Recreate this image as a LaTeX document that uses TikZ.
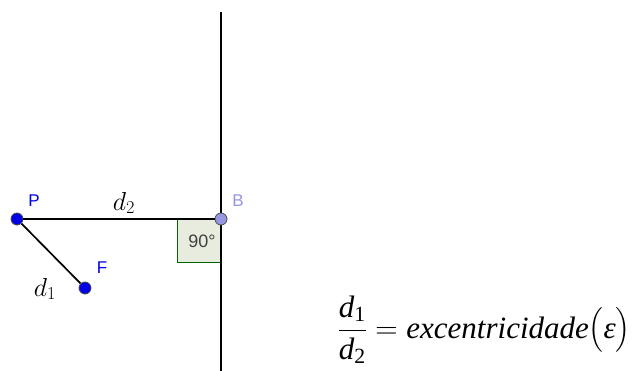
\documentclass[tikz,border=0pt]{standalone}
\usepackage{fix-cm}
\usepackage{amsmath}
\usepackage{fontspec}
\setmainfont{Liberation Serif}
\newfontfamily\labelfont{Liberation Sans}
\usetikzlibrary{positioning, calc}
\definecolor{ptblue}{RGB}{0,0,230}
\definecolor{ptlilac}{RGB}{150,150,225}
\definecolor{anglegreen}{RGB}{0,100,0}
\definecolor{anglefill}{RGB}{232,236,222}
\tikzset{
  ptdot/.style={circle, draw=black!70, line width=0.8pt, inner sep=0pt, minimum size=12pt},
  ptname/.style={font=\labelfont\fontsize{17}{17}\selectfont, inner sep=0pt},
  dlabel/.style={font=\fontsize{26}{26}\selectfont, inner sep=0pt},
  seg/.style={line width=1.7pt, black}
}
\begin{document}
\begin{tikzpicture}[x=1pt, y=-1pt]
  \useasboundingbox (0,0) rectangle (636,371);
  % right angle mark
  \node[draw=anglegreen, fill=anglefill, line width=0.8pt, minimum width=43pt, minimum height=43pt,
        inner sep=0pt, anchor=north east] (ang) at (221,219) {};
  \node[font=\labelfont\fontsize{18}{18}\selectfont, text=black!75, inner sep=0pt] (deg) at (202,241) {90\textdegree};
  % directrix
  \coordinate (top) at (221,12);
  \coordinate (bot) at (221,371);
  \draw[seg] (top) -- (bot);
  % points
  \node[ptdot, fill=ptblue] (P) at (17,219) {};
  \node[ptdot, fill=ptlilac] (B) at (221,219) {};
  \node[ptdot, fill=ptblue] (F) at (85,288) {};
  \draw[seg] (P) -- (B);
  \draw[seg] (P) -- (F);
  \node[ptname, text=ptblue] (Pl) at (34,201) {P};
  \node[ptname, text=ptlilac] (Bl) at (238,201) {B};
  \node[ptname, text=ptblue] (Fl) at (102,268) {F};
  \node[dlabel] (d2) at (124,203) {$d_2$};
  \node[dlabel] (d1) at (45,289) {$d_1$};
  % eccentricity
  \node[font=\fontsize{31}{37}\selectfont, inner sep=0pt, anchor=base east] (ecc) at (631,338)
    {$\dfrac{\textit{d}_{\text{1}}}{\textit{d}_{\text{2}}}=\textit{excentricidade}\bigl(\textit{ε}\bigr)$};
\end{tikzpicture}
\end{document}
